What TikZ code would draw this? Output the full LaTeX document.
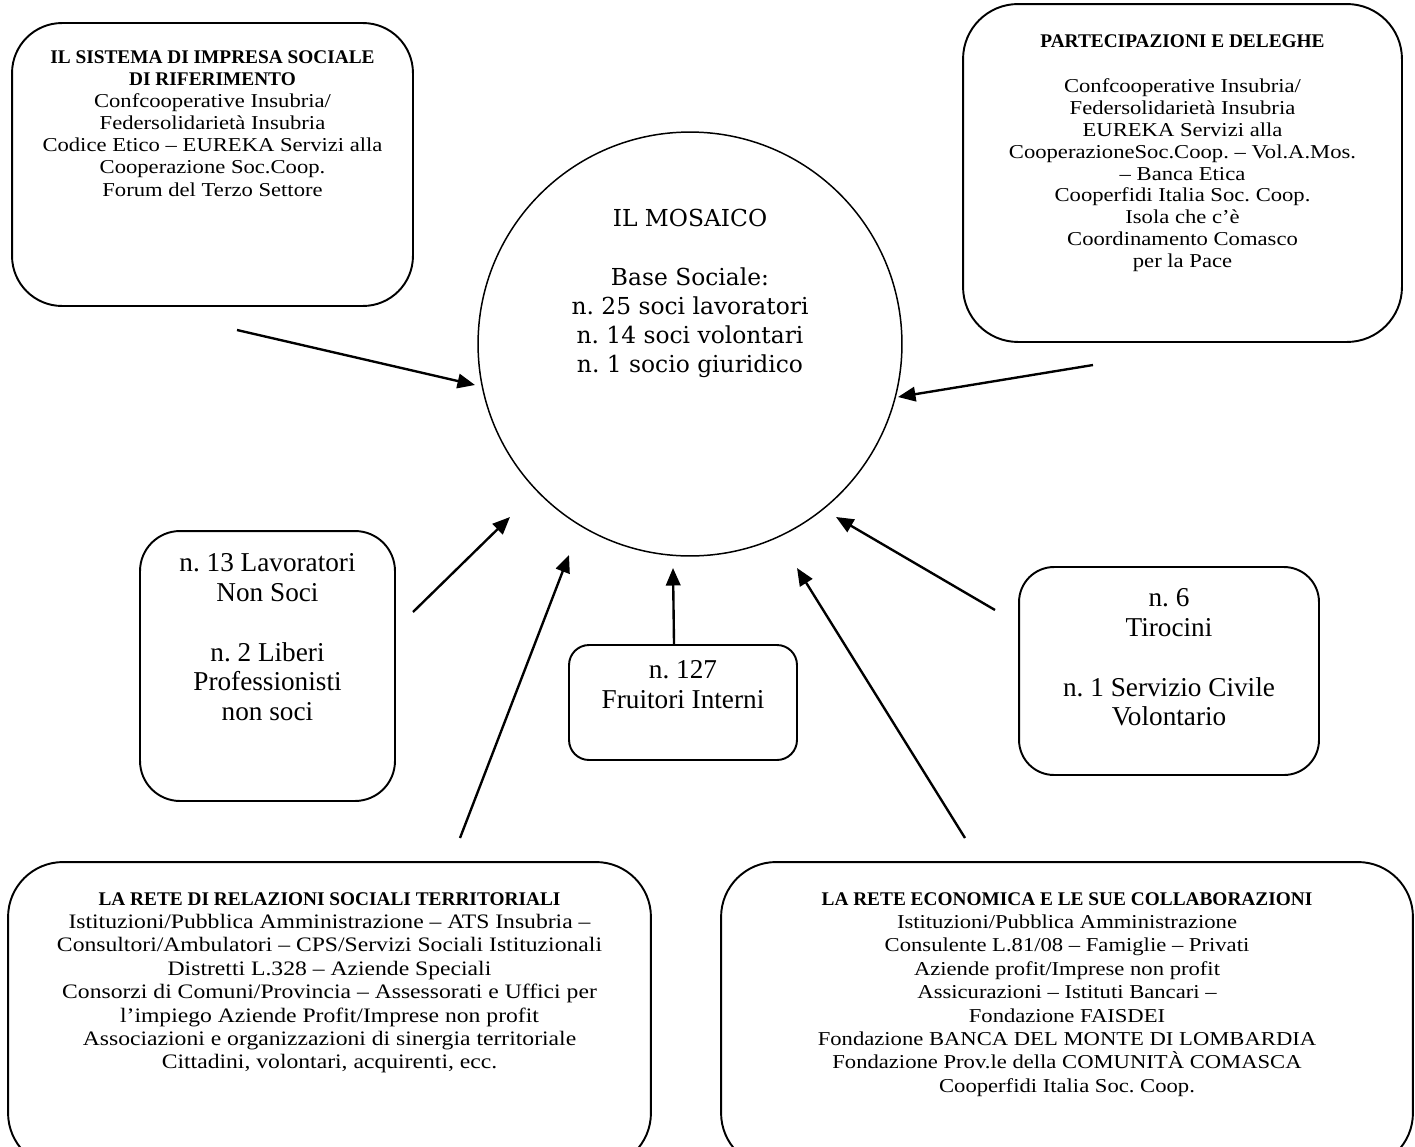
\documentclass[tikz,border=0pt]{standalone}
\usepackage{fontspec}
\setmainfont{Liberation Serif}
\newfontfamily\boxfont[FakeStretch=1.15]{Liberation Serif}
\newfontfamily\mosfont{DejaVu Serif}
\frenchspacing
\usetikzlibrary{positioning, arrows.meta}
\tikzset{
  box/.style={draw, line width=1.1pt, rounded corners=#1},
  box/.default=8mm,
  small/.style={align=center, inner sep=0pt, font=\boxfont\fontsize{11.2}{12.6}\selectfont},
  low/.style={align=center, inner sep=0pt, font=\boxfont\fontsize{11.2}{13.3}\selectfont},
  mid/.style={align=center, inner sep=0pt, font=\fontsize{15.5}{17}\selectfont},
  big/.style={align=center, inner sep=0pt, font=\mosfont\fontsize{13.3}{16.6}\selectfont},
  arr/.style={-{Triangle[length=3.5mm, width=2.9mm]}, line width=1.35pt}
}
\newcommand{\hd}[1]{{\rmfamily\bfseries\fontsize{11}{12.6}\selectfont #1}}

\begin{document}
\begin{tikzpicture}[x=0.02cm, y=-0.02cm]
  \clip (0,0) rectangle (1415,1146);

  % il mosaico
  \node[circle, draw, line width=0.85pt, minimum size=8.48cm] (mos) at (690,344) {};
  \node[big, below=1.56cm of mos.north] (mostxt)
    {IL MOSAICO\\[16.6pt]Base Sociale:\\n. 25 soci lavoratori\\n. 14 soci volontari\\n. 1 socio giuridico};

  % riquadri in alto
  \node[box=1cm, minimum width=8.02cm, minimum height=5.66cm] (sis) at (212.5,164.5) {};
  \node[small, below=0.56cm of sis.north] (sistxt)
    {\hd{IL SISTEMA DI IMPRESA SOCIALE}\\\hd{DI RIFERIMENTO}\\
     Confcooperative Insubria/\\Federsolidarietà Insubria\\
     Codice Etico – EUREKA Servizi alla\\Cooperazione Soc.Coop.\\Forum del Terzo Settore};

  \node[box=1.1cm, minimum width=8.78cm, minimum height=6.76cm] (par) at (1182.5,173) {};
  \node[small, font=\boxfont\fontsize{11.2}{12.4}\selectfont, below=0.62cm of par.north] (partxt)
    {\hd{PARTECIPAZIONI E DELEGHE}\\[13.6pt]
     Confcooperative Insubria/\\Federsolidarietà Insubria\\EUREKA Servizi alla\\
     CooperazioneSoc.Coop. – Vol.A.Mos.\\– Banca Etica\\Cooperfidi Italia Soc. Coop.\\
     Isola che c’è\\Coordinamento Comasco\\per la Pace};

  % riquadri centrali
  \node[box, minimum width=5.1cm, minimum height=5.4cm] (lav) at (267.5,666) {};
  \node[mid, below=0.46cm of lav.north] (lavtxt)
    {n. 13 Lavoratori\\Non Soci\\[17pt]n. 2 Liberi\\Professionisti\\non soci};

  \node[box=4mm, minimum width=4.56cm, minimum height=2.3cm] (fru) at (683,702.5) {};
  \node[mid, below=0.32cm of fru.north] (frutxt)
    {n. 127\\Fruitori Interni};

  \node[box=7mm, minimum width=6cm, minimum height=4.16cm] (tir) at (1169,671) {};
  \node[mid, below=0.44cm of tir.north] (tirtxt)
    {n. 6\\Tirocini\\[17pt]n. 1 Servizio Civile\\Volontario};

  % riquadri in basso
  \node[box=1.1cm, minimum width=12.86cm, minimum height=6.12cm] (ret) at (329.5,1015) {};
  \node[low, font=\boxfont\fontsize{11.7}{13.3}\selectfont, below=0.62cm of ret.north] (rettxt)
    {\hd{LA RETE DI RELAZIONI SOCIALI TERRITORIALI}\\
     Istituzioni/Pubblica Amministrazione – ATS Insubria –\\
     Consultori/Ambulatori – CPS/Servizi Sociali Istituzionali\\
     Distretti L.328 – Aziende Speciali\\
     Consorzi di Comuni/Provincia – Assessorati e Uffici per\\
     l’impiego Aziende Profit/Imprese non profit\\
     Associazioni e organizzazioni di sinergia territoriale\\
     Cittadini, volontari, acquirenti, ecc.};

  \node[box=1.1cm, minimum width=13.84cm, minimum height=6.12cm] (eco) at (1067,1015) {};
  \node[low, below=0.62cm of eco.north] (ecotxt)
    {\hd{LA RETE ECONOMICA E LE SUE COLLABORAZIONI}\\
     Istituzioni/Pubblica Amministrazione\\
     Consulente L.81/08 – Famiglie – Privati\\
     Aziende profit/Imprese non profit\\
     Assicurazioni – Istituti Bancari –\\
     Fondazione FAISDEI\\
     Fondazione BANCA DEL MONTE DI LOMBARDIA\\
     Fondazione Prov.le della COMUNITÀ COMASCA\\
     Cooperfidi Italia Soc. Coop.};

  % frecce verso il mosaico
  \coordinate (sisA) at (237,330);  \coordinate (sisB) at (475,385);
  \coordinate (parA) at (1093,365); \coordinate (parB) at (898,397);
  \coordinate (lavA) at (413,612);  \coordinate (lavB) at (510,517);
  \coordinate (retA) at (460,838);  \coordinate (retB) at (569,555);
  \coordinate (fruA) at (674,644);  \coordinate (fruB) at (673,568);
  \coordinate (ecoA) at (965,838);  \coordinate (ecoB) at (797,568);
  \coordinate (tirA) at (995,610);  \coordinate (tirB) at (836,517);

  \foreach \s in {sis, par, lav, ret, fru, eco, tir}
    \draw[arr] (\s A) -- (\s B);
\end{tikzpicture}
\end{document}
